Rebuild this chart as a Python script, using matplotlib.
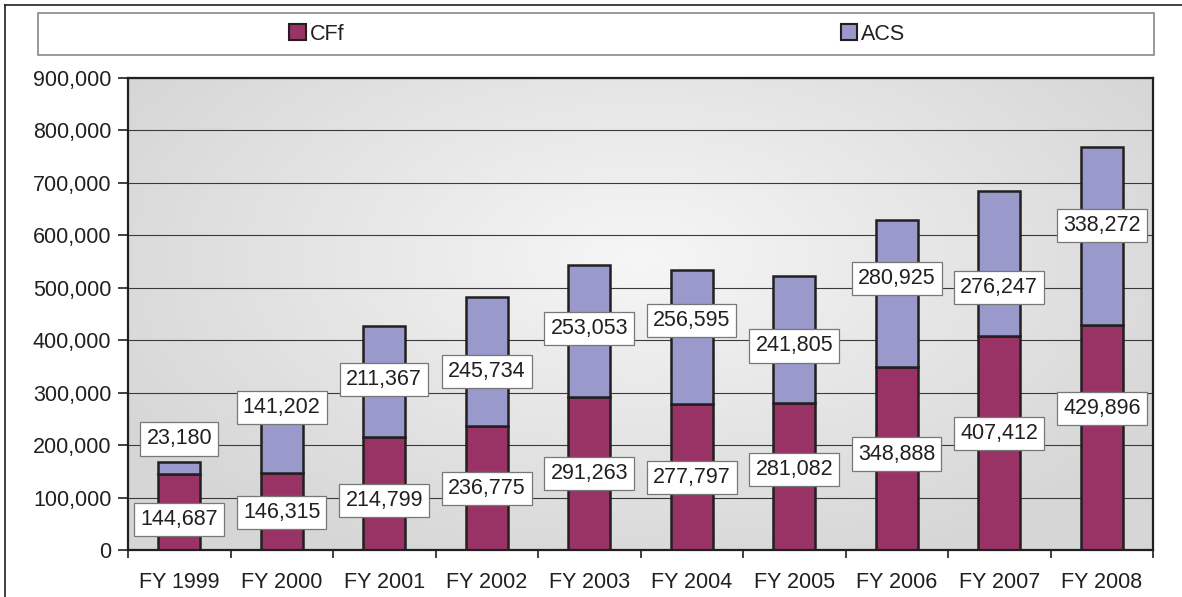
import numpy as np
import matplotlib
matplotlib.use("Agg")
import matplotlib.pyplot as plt
from matplotlib.patches import Rectangle, Patch
from matplotlib.lines import Line2D
from matplotlib.ticker import FuncFormatter

plt.rcParams['font.family'] = ['Liberation Sans', 'DejaVu Sans']

categories = ["FY 1999", "FY 2000", "FY 2001", "FY 2002", "FY 2003",
              "FY 2004", "FY 2005", "FY 2006", "FY 2007", "FY 2008"]
cff = [144687, 146315, 214799, 236775, 291263, 277797, 281082, 348888, 407412, 429896]
acs = [23180, 141202, 211367, 245734, 253053, 256595, 241805, 280925, 276247, 338272]
series_names = ["CFf", "ACS"]

# label placement (data-coordinate y of each label box centre, as placed in the original)
cff_label_y = [58700, 71500, 94000, 118000, 145500, 138600, 153500, 183000, 222000, 270000]
acs_label_y = [211700, 271700, 325000, 341000, 422000, 438000, 389000, 517000, 500000, 618000]

c_cff = "#993366"
c_acs = "#9999cc"
edge = "#231f20"
FS = 15.5

W, H = 1182, 597
fig = plt.figure(figsize=(W / 100, H / 100), dpi=100)
fig.patch.set_facecolor("white")
ax = fig.add_axes([128 / W, 1 - 550 / H, (1153 - 128) / W, (550 - 78) / H])

# gradient background
ny, nx = 200, 400
yy, xx = np.mgrid[0:1:ny * 1j, 0:1:nx * 1j]
d = np.sqrt(((xx - 0.5) / 0.75) ** 2 + ((yy - 0.62) / 0.9) ** 2)
g = np.clip(0.965 - 0.16 * d, 0.84, 0.97)
img = np.dstack([g, g, g])
ax.imshow(img, extent=[0, 1, 0, 1], transform=ax.transAxes, aspect="auto",
          origin="lower", zorder=0, interpolation="bilinear")

x = np.arange(len(categories))
ax.set_xlim(-0.5, len(categories) - 0.5)
ax.set_ylim(0, 900000)

ax.set_yticks(np.arange(0, 900001, 100000))
ax.yaxis.set_major_formatter(FuncFormatter(lambda v, p: f"{int(v):,}"))
ax.grid(axis="y", color="#3a3a3a", lw=0.8, zorder=1)
ax.set_axisbelow(True)

bw = 0.41
ax.bar(x, cff, width=bw, color=c_cff, edgecolor=edge, lw=1.8, zorder=3)
ax.bar(x, acs, bottom=cff, width=bw, color=c_acs, edgecolor=edge, lw=1.8, zorder=3)

bbox = dict(boxstyle="square,pad=0.28", fc="white", ec="#777777", lw=0.9)
for i in range(len(categories)):
    ax.text(x[i], cff_label_y[i], f"{cff[i]:,}", ha="center", va="center",
            fontsize=FS, color="#231f20", bbox=bbox, zorder=5)
    ax.text(x[i], acs_label_y[i], f"{acs[i]:,}", ha="center", va="center",
            fontsize=FS, color="#231f20", bbox=bbox, zorder=5)

ax.set_xticks(x)
ax.set_xticklabels(categories)
ax.set_xticks(np.arange(-0.5, len(categories)), minor=True)
ax.tick_params(axis="x", which="major", length=0, pad=16, labelsize=FS, colors="#231f20")
ax.tick_params(axis="x", which="minor", length=6, width=1.2, color=edge)
ax.tick_params(axis="y", length=7, width=1.2, color=edge, labelsize=FS, labelcolor="#231f20", pad=5)
for s in ax.spines.values():
    s.set_color(edge)
    s.set_linewidth(1.6)
    s.set_zorder(6)

# legend box
fig.add_artist(Rectangle((38 / W, 1 - 55 / H), (1154 - 38) / W, (55 - 13) / H,
                         transform=fig.transFigure, fc="white", ec="#888888", lw=1.2))
for name, col, cx in [(series_names[0], c_cff, 317), (series_names[1], c_acs, 873)]:
    fig.legend(handles=[Patch(fc=col, ec=edge, lw=1.5)], labels=[name],
               loc="center", bbox_to_anchor=(cx / W, 1 - 34 / H), frameon=False,
               fontsize=FS, handlelength=0.75, handleheight=0.75, handletextpad=0.2,
               labelcolor="#231f20")

# outer frame
fig.add_artist(Line2D([5 / W, 1], [1 - 5 / H, 1 - 5 / H], transform=fig.transFigure,
                      color="#231f20", lw=1.2))
fig.add_artist(Line2D([5 / W, 5 / W], [0, 1 - 5 / H], transform=fig.transFigure,
                      color="#231f20", lw=1.2))

fig.savefig("out.png", dpi=100)
